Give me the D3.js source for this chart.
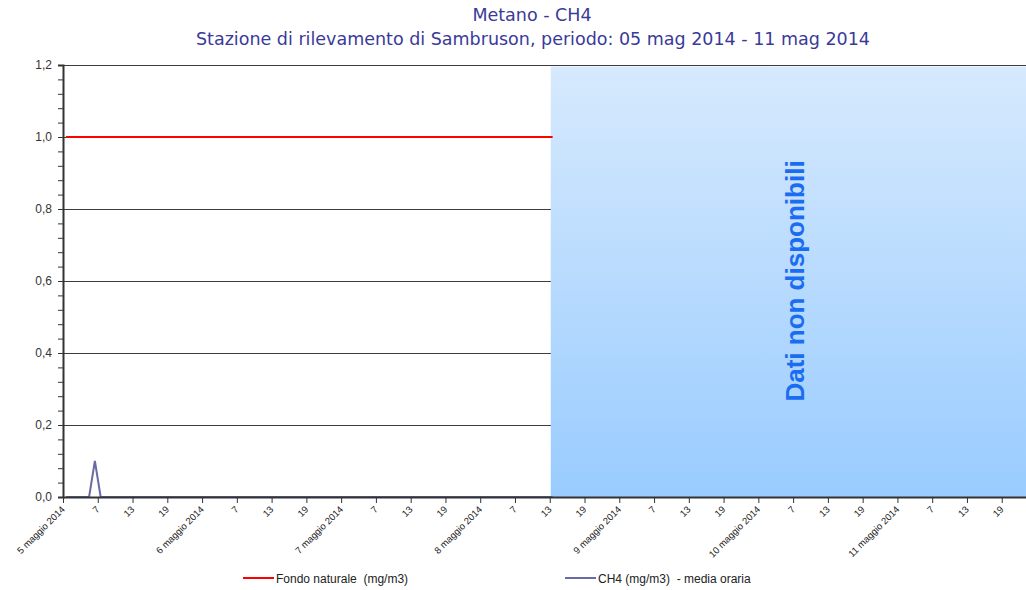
<!DOCTYPE html>
<html>
<head>
<meta charset="utf-8">
<script src="https://cdn.jsdelivr.net/npm/d3@7"></script>
<style>
  body { margin: 0; background: #fff; overflow: hidden; }
  text { font-family: "Liberation Sans", Arial, sans-serif; white-space: pre; }
</style>
</head>
<body>
<script>
var width = 1026,
  height = 590;

// Data
var days = ["5 maggio 2014", "6 maggio 2014", "7 maggio 2014", "8 maggio 2014",
  "9 maggio 2014", "10 maggio 2014", "11 maggio 2014"];
var hourLabels = ["7", "13", "19"];
var yTicks = [0, 0.2, 0.4, 0.6, 0.8, 1.0, 1.2];
var fondoNaturale = 1.0;
// hourly values from 01:00 of 5 maggio to 13:00 of 8 maggio
var ch4 = [0, 0, 0, 0, 0, 0.1, 0, 0, 0, 0, 0, 0, 0, 0, 0, 0, 0, 0, 0, 0, 0, 0, 0, 0,
  0, 0, 0, 0, 0, 0, 0, 0, 0, 0, 0, 0, 0, 0, 0, 0, 0, 0, 0, 0, 0, 0, 0, 0,
  0, 0, 0, 0, 0, 0, 0, 0, 0, 0, 0, 0, 0, 0, 0, 0, 0, 0, 0, 0, 0, 0, 0, 0,
  0, 0, 0, 0, 0, 0, 0, 0, 0, 0, 0, 0, 0];
var legendLabels = ["Fondo naturale  (mg/m3)", "CH4 (mg/m3)  - media oraria"];

// hourly categories
var hours = [];
days.forEach(function (d, i) {
  for (var h = 0; h < 24; h++) hours.push(i * 24 + h);
});

var svg = d3.select("body").append("svg")
  .attr("width", width)
  .attr("height", height);

var x = d3.scaleBand()
  .domain(hours)
  .range([63, 1036.5])
  .padding(0);
var y = d3.scaleLinear()
  .domain([0, 1.2])
  .range([497, 65]);
var cx = function (i) { return x(i) + x.bandwidth() / 2; };

// Title
svg.append("text")
  .attr("x", 532).attr("y", 21)
  .attr("text-anchor", "middle")
  .style("font-family", "DejaVu Sans")
  .style("font-size", "17.5px")
  .attr("fill", "#3a3a98")
  .text("Metano - CH4");
svg.append("text")
  .attr("x", 533).attr("y", 45)
  .attr("text-anchor", "middle")
  .style("font-family", "DejaVu Sans")
  .style("font-size", "17.5px")
  .attr("fill", "#3a3a98")
  .text("Stazione di rilevamento di Sambruson, periodo: 05 mag 2014 - 11 mag 2014");

// gridlines
svg.append("g")
  .selectAll("line")
  .data(yTicks.filter(function (d) { return d > 0; }))
  .enter().append("line")
  .attr("x1", 63).attr("x2", 1040)
  .attr("y1", function (d) { return Math.round(y(d)) + 0.5; })
  .attr("y2", function (d) { return Math.round(y(d)) + 0.5; })
  .attr("stroke", "#3c3c3c")
  .attr("stroke-width", 1);

// missing data area
var grad = svg.append("defs").append("linearGradient")
  .attr("id", "nodata")
  .attr("x1", 0).attr("y1", 0).attr("x2", 0).attr("y2", 1);
grad.append("stop").attr("offset", "0%").attr("stop-color", "#d6e9fd");
grad.append("stop").attr("offset", "100%").attr("stop-color", "#99ccff");

var firstMissing = ch4.length - 1;
svg.append("rect")
  .attr("x", x(firstMissing) + 1)
  .attr("y", y(1.2) + 1.5)
  .attr("width", 1040 - x(firstMissing))
  .attr("height", y(0) - y(1.2) - 1.5)
  .attr("fill", "url(#nodata)");

svg.append("text")
  .attr("transform", "translate(" + 804 + "," + y(0.6) + ") rotate(-90)")
  .attr("text-anchor", "middle")
  .style("font-size", "26px")
  .style("font-weight", "bold")
  .attr("fill", "#1a6cf0")
  .text("Dati non disponibili");

// lines
var line = d3.line()
  .x(function (d, i) { return cx(i); })
  .y(function (d) { return y(d); });

svg.append("path")
  .datum(ch4.map(function () { return fondoNaturale; }))
  .attr("d", line)
  .attr("fill", "none")
  .attr("stroke", "#ff0000")
  .attr("stroke-width", 2);

svg.append("path")
  .datum(ch4)
  .attr("d", line)
  .attr("fill", "none")
  .attr("stroke", "#6a6aa6")
  .attr("stroke-width", 2);

// y axis
var minor = d3.range(0, 1.2001, 0.04);
svg.append("g")
  .attr("transform", "translate(63,0)")
  .call(d3.axisLeft(y).tickValues(minor).tickSize(5).tickFormat(""))
  .call(function (g) { g.select(".domain").remove(); })
  .selectAll("line").attr("stroke", "#333");

var yAxis = svg.append("g")
  .attr("transform", "translate(63,0)")
  .call(d3.axisLeft(y).tickValues(yTicks).tickSize(5).tickPadding(6)
    .tickFormat(function (d) { return d3.format(".1f")(d).replace(".", ","); }));
yAxis.select(".domain").attr("stroke", "#333").attr("stroke-width", 2);
yAxis.selectAll("line").attr("stroke", "#333");
yAxis.selectAll("text")
  .style("font-size", "12px")
  .attr("fill", "#333");

// x axis
var tickCats = hours.filter(function (d) { return d % 6 === 0; });
var xAxis = svg.append("g")
  .attr("transform", "translate(0,497)")
  .call(d3.axisBottom(x).tickValues(tickCats).tickSize(6).tickFormat(function (d) {
    return d % 24 === 0 ? days[d / 24] : hourLabels[(d % 24) / 6 - 1];
  }));
xAxis.selectAll(".tick").attr("transform", function (d) {
  return "translate(" + (x(d) + 0.5) + ",0)";
});
xAxis.select(".domain")
  .attr("d", "M63,0.5H1040")
  .attr("stroke", "#333")
  .attr("stroke-width", 2);
xAxis.selectAll("line").attr("stroke", "#333");
xAxis.selectAll("text")
  .attr("y", 0).attr("dy", 0)
  .attr("text-anchor", "end")
  .attr("transform", "translate(2,13) rotate(-45)")
  .style("font-size", "9.5px")
  .attr("fill", "#222");

// legend
var legendColors = ["#ff0000", "#6a6aa6"];
var legendX = [243, 565];
var lg = svg.append("g")
  .selectAll("g")
  .data(legendLabels)
  .enter().append("g")
  .attr("transform", function (d, i) { return "translate(" + legendX[i] + ",578)"; });
lg.append("line")
  .attr("x1", 0).attr("x2", 31)
  .attr("stroke", function (d, i) { return legendColors[i]; })
  .attr("stroke-width", 2);
lg.append("text")
  .attr("x", 33).attr("y", 4.5)
  .style("font-size", "12px")
  .attr("fill", "#222")
  .text(function (d) { return d; });
</script>
</body>
</html>
